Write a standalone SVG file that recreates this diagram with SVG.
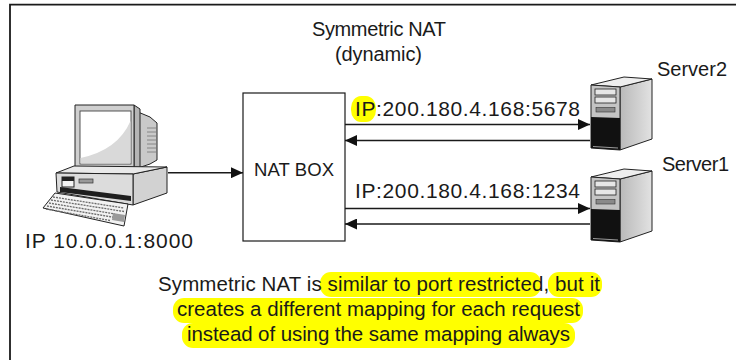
<svg xmlns="http://www.w3.org/2000/svg" xmlns:xlink="http://www.w3.org/1999/xlink" width="736" height="360" viewBox="0 0 736 360">
  <style>
    .lbl { font-family: "Liberation Sans", Arial, sans-serif; fill: #1a1a1a; }
    .frame { fill: none; stroke: #1a1a1a; stroke-width: 1.8; }
    .wire { fill: none; stroke: #1a1a1a; stroke-width: 1.5; marker-end: url(#head); }
    .hl { fill: #ffff00; }
    .ol { stroke: #222; stroke-width: 1; stroke-linejoin: round; }
  </style>
  <defs>
    <marker id="head" viewBox="0 0 12 11" refX="12" refY="5.5" markerWidth="12" markerHeight="11" markerUnits="userSpaceOnUse" orient="auto">
      <path d="M0,0 L12,5.5 L0,11 Z" fill="#111"/>
    </marker>
    <linearGradient id="sideShade" x1="0" y1="0" x2="1" y2="0">
      <stop offset="0" stop-color="#b9b9b9"/>
      <stop offset="1" stop-color="#e2e2e2"/>
    </linearGradient>
    <!-- server tower, drawn at the upper position -->
    <g id="tower">
      <polygon class="ol" points="620,87 652,79 652,139 620,150" fill="url(#sideShade)"/>
      <polygon class="ol" points="591,85 620,87 652,79 624,77" fill="#eeeeee"/>
      <polygon class="ol" points="591,85 620,87 620,150 591,148" fill="#c4c4c4"/>
      <rect x="595" y="89" width="21" height="6" fill="#e6e6e6" stroke="#222" stroke-width="0.8"/>
      <rect x="595" y="97" width="21" height="6" fill="#e6e6e6" stroke="#222" stroke-width="0.8"/>
      <rect x="596" y="107.5" width="19" height="4.5" fill="#8a8a8a" stroke="#333" stroke-width="0.6"/>
      <polygon points="591,117 620,118 620,150 591,148" fill="#111"/>
      <line x1="593" y1="146.5" x2="618" y2="148" stroke="#9a9a9a" stroke-width="1"/>
    </g>
  </defs>

  <!-- outer frame (top and left edges) -->
  <path class="frame" d="M10,360 L10,4.6 L736,4.6"/>

  <!-- title -->
  <g id="title">
    <text class="lbl" x="312" y="36" font-size="20" textLength="134" lengthAdjust="spacing">Symmetric NAT</text>
    <text class="lbl" x="335" y="61" font-size="20" textLength="87" lengthAdjust="spacing">(dynamic)</text>
  </g>

  <!-- client computer -->
  <g id="client">
    <!-- CRT housing behind the bezel -->
    <polygon class="ol" points="138,112 150,117 157,123 157,160 150,164 138,168" fill="#c9c9c9"/>
    <g stroke="#777" stroke-width="0.8">
      <line x1="147" y1="128" x2="156" y2="128"/>
      <line x1="147" y1="132" x2="156" y2="132"/>
      <line x1="147" y1="136" x2="156" y2="136"/>
      <line x1="147" y1="140" x2="156" y2="140"/>
      <line x1="147" y1="144" x2="156" y2="144"/>
      <line x1="147" y1="148" x2="156" y2="148"/>
      <line x1="147" y1="152" x2="156" y2="152"/>
    </g>
    <!-- bezel -->
    <polygon class="ol" points="134,105 140,109 140,167 134,171" fill="#b5b5b5"/>
    <rect class="ol" x="75" y="105" width="59" height="66" fill="#cfcfcf"/>
    <rect x="80" y="111" width="51" height="53" fill="#ffffff" stroke="#444" stroke-width="0.9"/>
    <path d="M80.5,158 Q118,150 130.5,121 L130.5,163.5 L80.5,163.5 Z" fill="#d9d9d9"/>
    <!-- desktop case -->
    <polygon class="ol" points="133,174 167,167 167,193 133,205" fill="#d2d2d2"/>
    <polygon class="ol" points="56,173 133,174 167,167 74,166" fill="#e9e9e9"/>
    <polygon class="ol" points="56,173 133,174 133,205 57,192" fill="#dcdcdc"/>
    <rect x="62" y="177" width="12" height="10" fill="#f4f4f4" stroke="#222" stroke-width="1"/>
    <rect x="62" y="177" width="12" height="4" fill="#222"/>
    <rect x="79" y="179" width="14" height="4" fill="#999" stroke="#333" stroke-width="0.7"/>
    <polygon points="60,187 131,196 131,201 60,192" fill="#1e1e1e"/>
    <!-- keyboard -->
    <polygon class="ol" points="43,208 55,193 128,204 124,226" fill="#f2f2f2"/>
    <g stroke="#6a6a6a" stroke-width="1.3" stroke-dasharray="2 1">
      <line x1="53" y1="197" x2="124" y2="208"/>
      <line x1="51" y1="200" x2="124" y2="211.5"/>
      <line x1="49" y1="203" x2="115" y2="214"/>
      <line x1="47" y1="206" x2="115" y2="217.5"/>
      <line x1="46" y1="209" x2="110" y2="220.5"/>
    </g>
    <polygon points="113,213 125,215 124,222 112,220" fill="#9a9a9a"/>
    <text class="lbl" x="25" y="248" font-size="21" textLength="168" lengthAdjust="spacing">IP 10.0.0.1:8000</text>
  </g>

  <!-- NAT box -->
  <g id="nat-box">
    <rect x="243" y="93" width="102" height="148" fill="#ffffff" stroke="#1a1a1a" stroke-width="1.2"/>
    <text class="lbl" x="254" y="176" font-size="18.5" textLength="80" lengthAdjust="spacing">NAT BOX</text>
  </g>

  <!-- servers -->
  <g id="server2">
    <use xlink:href="#tower"/>
    <text class="lbl" x="657" y="76" font-size="20" textLength="70" lengthAdjust="spacing">Server2</text>
  </g>
  <g id="server1">
    <use xlink:href="#tower" transform="translate(0,92)"/>
    <text class="lbl" x="662" y="171" font-size="20" textLength="67" lengthAdjust="spacing">Server1</text>
  </g>

  <!-- connectors -->
  <g id="connectors">
    <line class="wire" x1="168" y1="172.7" x2="243" y2="172.7"/>
    <line class="wire" x1="345" y1="124.5" x2="590" y2="124.5"/>
    <line class="wire" x1="590" y1="140.5" x2="345" y2="140.5"/>
    <line class="wire" x1="345" y1="208.5" x2="590" y2="208.5"/>
    <line class="wire" x1="590" y1="224" x2="345" y2="224"/>
  </g>

  <!-- connector labels -->
  <g id="mapping-labels">
    <rect class="hl" x="351" y="96" width="25" height="26" rx="10" ry="12"/>
    <text class="lbl" x="355" y="116" font-size="21" textLength="225" lengthAdjust="spacing">IP:200.180.4.168:5678</text>
    <text class="lbl" x="355" y="198" font-size="21" textLength="225" lengthAdjust="spacing">IP:200.180.4.168:1234</text>
  </g>

  <!-- caption -->
  <g id="caption">
    <rect class="hl" x="320" y="272" width="221" height="25" rx="11"/>
    <rect class="hl" x="548" y="272" width="54" height="25" rx="11"/>
    <rect class="hl" x="173" y="298" width="410" height="25" rx="11"/>
    <rect class="hl" x="182" y="323" width="393" height="25" rx="11"/>
    <text class="lbl" x="158" y="291" font-size="20.5" textLength="442" lengthAdjust="spacing">Symmetric NAT is similar to port restricted, but it</text>
    <text class="lbl" x="177" y="316" font-size="20.5" textLength="403" lengthAdjust="spacing">creates a different mapping for each request</text>
    <text class="lbl" x="187" y="341" font-size="20.5" textLength="383" lengthAdjust="spacing">instead of using the same mapping always</text>
  </g>
</svg>
